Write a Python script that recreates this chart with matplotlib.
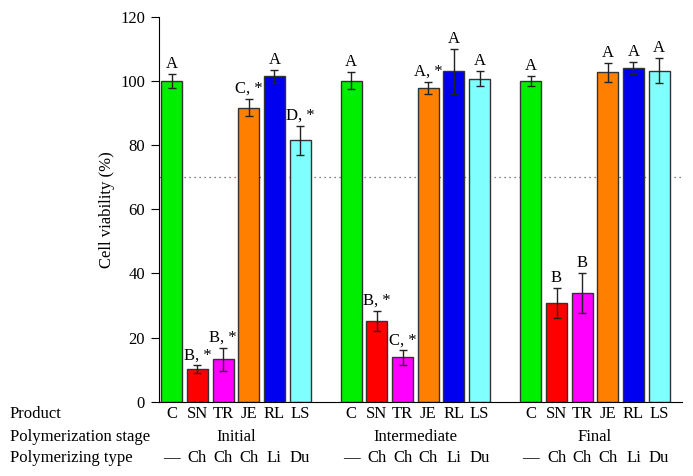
import numpy as np
import matplotlib
matplotlib.use("Agg")
from matplotlib import pyplot as plt
from matplotlib import transforms

plt.rcParams['font.family'] = ['Liberation Serif', 'DejaVu Serif']

products = ['C', 'SN', 'TR', 'JE', 'RL', 'LS']
stages = ['Initial', 'Intermediate', 'Final']
poly_types = ['\u2014', 'Ch', 'Ch', 'Ch', 'Li', 'Du']
colors = ['#00ee00', '#ff0000', '#ff00ff', '#ff8000', '#0000f0', '#80ffff']

# cell viability (%) per stage, order = products
initial_vals = [100, 10.2, 13.2, 91.6, 101.4, 81.5]
initial_err = [2.1, 1.1, 3.6, 2.7, 2.0, 4.5]
initial_lbl = ['A', 'B, *', 'B, *', 'C, *', 'A', 'D, *']

inter_vals = [100, 25.2, 13.8, 97.8, 103.0, 100.7]
inter_err = [2.6, 3.1, 2.2, 1.8, 7.0, 2.4]
inter_lbl = ['A', 'B, *', 'C, *', 'A, *', 'A', 'A']

final_vals = [100, 30.8, 33.8, 102.6, 104.0, 103.2]
final_err = [1.6, 4.7, 6.2, 2.9, 1.8, 4.0]
final_lbl = ['A', 'B', 'B', 'A', 'A', 'A']

threshold = 70

groups = [(initial_vals, initial_err, initial_lbl),
          (inter_vals, inter_err, inter_lbl),
          (final_vals, final_err, final_lbl)]

fig = plt.figure(figsize=(6.93, 4.76), dpi=100)
ax = fig.add_axes([0.2294, 0.156, 0.755, 0.809])

fs = 12
trans = transforms.blended_transform_factory(ax.transData, fig.transFigure)

for g, (vals, errs, lbls) in enumerate(groups):
    x = np.arange(len(products)) + g * 7
    ax.bar(x, vals, width=0.82, color=colors, edgecolor='#333333', linewidth=1.0, zorder=2)
    ax.errorbar(x, vals, yerr=errs, fmt='none', ecolor='#222222', elinewidth=1.0,
                capsize=3, capthick=1.0, zorder=3)
    for xi, v, e, l in zip(x, vals, errs, lbls):
        ax.annotate(l, (xi, v + e), xytext=(0, 1.5), textcoords='offset points',
                    ha='center', va='bottom', fontsize=fs)
    for xi, p, t in zip(x, products, poly_types):
        fig.text(xi, 1 - 414 / 476, p, transform=trans, ha='center', va='center', fontsize=fs)
        fig.text(xi, 1 - 458 / 476, t, transform=trans, ha='center', va='center', fontsize=fs)
    fig.text(x.mean(), 1 - 437 / 476, stages[g], transform=trans, ha='center', va='center', fontsize=fs)

fig.text(10 / 693, 1 - 414 / 476, 'Product', ha='left', va='center', fontsize=fs)
fig.text(10 / 693, 1 - 437 / 476, 'Polymerization stage', ha='left', va='center', fontsize=fs)
fig.text(10 / 693, 1 - 458 / 476, 'Polymerizing type', ha='left', va='center', fontsize=fs)

ax.axhline(threshold, color='#555555', linestyle=(0, (1, 3)), linewidth=0.9, zorder=1)

ax.set_xlim(-0.5, 19.9)
ax.set_ylim(0, 120)
ax.set_yticks(np.arange(0, 121, 20))
ax.tick_params(axis='y', labelsize=fs, direction='out', length=6, pad=4)
ax.set_xticks([])
ax.set_ylabel('Cell viability (%)', fontsize=fs, labelpad=4)
ax.spines['top'].set_visible(False)
ax.spines['right'].set_visible(False)

fig.savefig('out.png', dpi=100)
